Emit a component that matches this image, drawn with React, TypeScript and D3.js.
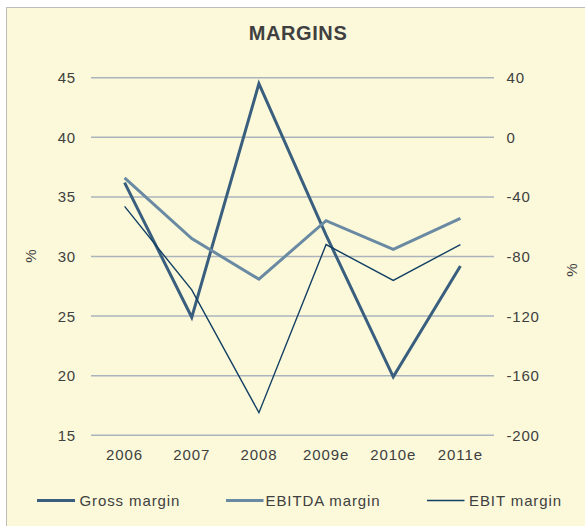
import React from "react";
import * as d3 from "d3";

const categories = ["2006", "2007", "2008", "2009e", "2010e", "2011e"];
const grossMargin = [36.2, 24.9, 44.5, 31.8, 19.9, 29.2];
const ebitdaMargin = [36.6, 31.5, 28.1, 33.0, 30.6, 33.2];
const ebitMargin = [34.2, 27.2, 16.9, 31.0, 28.0, 31.0];
const leftTicks = [15, 20, 25, 30, 35, 40, 45];
const rightTicks = [-200, -160, -120, -80, -40, 0, 40];
const seriesNames = ["Gross margin", "EBITDA margin", "EBIT margin"];

const W = 585;
const H = 526;
const plot = { left: 91, right: 494, top: 77.7, bottom: 435.3 };
const textColor = "#404040";
const font = "'Liberation Sans', Arial, sans-serif";

export default function App() {
  const x = d3
    .scaleBand<string>()
    .domain(categories)
    .range([plot.left, plot.right]);
  const yL = d3.scaleLinear().domain([15, 45]).range([plot.bottom, plot.top]);
  const yR = d3.scaleLinear().domain([-200, 40]).range([plot.bottom, plot.top]);
  const cx = (c: string) => (x(c) as number) + x.bandwidth() / 2;

  const line = d3
    .line<number>()
    .x((_, i) => cx(categories[i]))
    .y((v) => yL(v));

  const series = [
    { name: seriesNames[0], data: grossMargin, color: "#3A5F7E", width: 3 },
    { name: seriesNames[1], data: ebitdaMargin, color: "#6A8AA3", width: 3 },
    { name: seriesNames[2], data: ebitMargin, color: "#123F63", width: 1.4 },
  ];

  const legendItems = [
    { x1: 37, x2: 75, tx: 79.5 },
    { x1: 226, x2: 263.5, tx: 265.5 },
    { x1: 427, x2: 464.5, tx: 469 },
  ];

  return (
    <svg
      width={W}
      height={H}
      style={{ position: "absolute", left: 0, top: 0, display: "block" }}
      fontFamily={font}
    >
      <rect x={0} y={0} width={W} height={H} fill="#ffffff" />
      <rect
        x={6.5}
        y={7.5}
        width={W + 10}
        height={H + 10}
        fill="#FBF9DA"
        stroke="#BDBDBD"
        strokeWidth={1}
      />
      <text
        x={298}
        y={40}
        textAnchor="middle"
        fontSize={20}
        fontWeight="bold"
        fill={textColor}
        letterSpacing={0.6}
      >
        MARGINS
      </text>

      {leftTicks.map((t) => (
        <line
          key={"g" + t}
          x1={plot.left}
          x2={plot.right}
          y1={yL(t)}
          y2={yL(t)}
          stroke="#ABB3BD"
          strokeWidth={1.5}
        />
      ))}
      {leftTicks.map((t) => (
        <text
          key={"l" + t}
          x={76}
          y={yL(t)}
          dy="0.36em"
          textAnchor="end"
          fontSize={15}
          fill={textColor}
          letterSpacing={0.8}
        >
          {t}
        </text>
      ))}
      {rightTicks.map((t) => (
        <text
          key={"r" + t}
          x={506.5}
          y={yR(t)}
          dy="0.36em"
          textAnchor="start"
          fontSize={15}
          fill={textColor}
          letterSpacing={0.8}
        >
          {t}
        </text>
      ))}
      {categories.map((c) => (
        <text
          key={"c" + c}
          x={cx(c)}
          y={460}
          textAnchor="middle"
          fontSize={15}
          fill={textColor}
          letterSpacing={0.9}
        >
          {c}
        </text>
      ))}
      <text
        transform={`translate(36,256) rotate(-90)`}
        textAnchor="middle"
        fontSize={15}
        fill={textColor}
      >
        %
      </text>
      <text
        transform={`translate(577,270) rotate(-90)`}
        textAnchor="middle"
        fontSize={15}
        fill={textColor}
      >
        %
      </text>

      {series.map((s) => (
        <path
          key={s.name}
          d={line(s.data) as string}
          fill="none"
          stroke={s.color}
          strokeWidth={s.width}
          strokeLinejoin="miter"
        />
      ))}

      {series.map((s, i) => (
        <g key={"lg" + s.name}>
          <line
            x1={legendItems[i].x1}
            x2={legendItems[i].x2}
            y1={500.5}
            y2={500.5}
            stroke={s.color}
            strokeWidth={s.width}
          />
          <text
            x={legendItems[i].tx}
            y={500.5}
            dy="0.36em"
            fontSize={15}
            fill={textColor}
            letterSpacing={0.9}
          >
            {s.name}
          </text>
        </g>
      ))}
    </svg>
  );
}
